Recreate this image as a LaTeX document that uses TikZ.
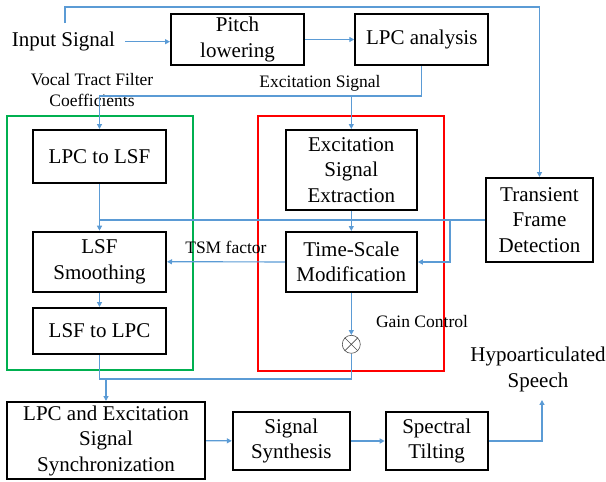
\documentclass[tikz,border=0pt]{standalone}
\usepackage{fontspec}
\setmainfont{Liberation Serif}
\usetikzlibrary{arrows.meta,positioning,calc}
\definecolor{flowblue}{RGB}{91,155,213}
\definecolor{grpgreen}{RGB}{0,176,80}
\begin{document}
\begin{tikzpicture}[x=1pt, y=-1pt,
  box/.style={draw, line width=2pt, align=center, inner sep=0pt, font=\fontsize{21}{25.5}\selectfont},
  txt/.style={align=center, inner sep=0pt, font=\fontsize{21}{25.5}\selectfont},
  lbl/.style={align=center, inner sep=0pt, text=black, font=\fontsize{17.5}{21}\selectfont},
  flow/.style={-{Triangle[length=5pt,width=5pt]}, flowblue, line width=1.2pt},
  link/.style={flowblue, line width=1.2pt}]
\useasboundingbox (0,0) rectangle (606,482);
% groups
\draw[grpgreen, line width=2pt] (7,115.7) rectangle (193,370);
\draw[red, line width=2pt] (258,115.7) rectangle (444,370.7);
% blocks
\node[txt] (in) at (63.4,41.7) {Input Signal};
\node[box, minimum width=133pt, minimum height=51pt] (pitch) at (237.5,39.5) {Pitch\\lowering};
\node[box, minimum width=133pt, minimum height=51pt] (lpc) at (421.75,39.5) {LPC analysis};
\node[box, minimum width=133pt, minimum height=53pt] (lpclsf) at (99.5,156.5) {LPC to LSF};
\node[box, minimum width=133pt, minimum height=60pt] (smooth) at (99.5,261.7) {LSF\\Smoothing};
\node[box, minimum width=133pt, minimum height=46pt] (lsflpc) at (99.5,331) {LSF to LPC};
\node[box, minimum width=131pt, minimum height=80pt] (exc) at (351.3,170) {Excitation\\Signal\\Extraction};
\node[box, minimum width=131pt, minimum height=60pt] (tsm) at (351.3,262) {Time-Scale\\Modification};
\node[box, minimum width=107pt, minimum height=84pt] (tfd) at (539.5,220) {Transient\\Frame\\Detection};
\node[circle, draw=black!70, line width=0.6pt, minimum size=18pt, inner sep=0pt] (mul) at (351.3,344.3) {};
\draw[black!70, line width=0.6pt] (mul.north west) -- (mul.south east) (mul.north east) -- (mul.south west);
\node[box, minimum width=198pt, minimum height=77pt] (sync) at (106,440.5) {LPC and Excitation\\Signal\\Synchronization};
\node[box, minimum width=117pt, minimum height=58pt] (synth) at (291.3,441) {Signal\\Synthesis};
\node[box, minimum width=102pt, minimum height=58pt] (tilt) at (436.7,441) {Spectral\\Tilting};
\node[txt] (out) at (538,369.5) {Hypoarticulated\\Speech};
% labels
\node[lbl] (vt) at (92,90.5) {Vocal Tract Filter\\Coefficients};
\node[lbl] (es) at (320,83) {Excitation Signal};
\node[lbl] (gain) at (422,322) {Gain Control};
% connectors
\coordinate (tap) at (65,23);
\coordinate (bus) at ($(lpclsf.north)+(0,-33)$);
\coordinate (tap2) at ($(tfd.west)+(-35,0)$);
\coordinate (join) at ($(lsflpc.south)+(0,24)$);
\draw[flow] (tap) |- (tfd.north |- 0,7) -- (tfd.north);
\draw[flow] ([xshift=10pt]in.east) -- (in.east -| pitch.west);
\draw[flow] (pitch) -- (lpc);
\draw[flow] (lpc.south) |- (bus) -- (lpclsf.north);
\draw[flow] (bus -| exc.north) -- (exc.north);
\draw[flow] (lpclsf) -- (smooth);
\draw[link] (tfd.west) -- (tfd.west -| lpclsf.south);
\draw[flow] (tap2) |- (tsm.east);
\draw[flow] (exc) -- (tsm);
\draw[flow] (tsm) -- node[lbl, above=8pt]{TSM factor} (smooth);
\draw[flow] (smooth) -- (lsflpc);
\draw[flow] (tsm) -- (mul);
\draw[link] (lsflpc.south) |- (join -| mul.south) -- (mul.south);
\draw[flow] (join -| sync.north) -- (sync.north);
\draw[flow] (sync) -- (synth);
\draw[flow] (synth) -- (tilt);
\draw[flow] (tilt.east) -| ([xshift=4pt,yshift=-8pt]out.south);
\end{tikzpicture}
\end{document}
